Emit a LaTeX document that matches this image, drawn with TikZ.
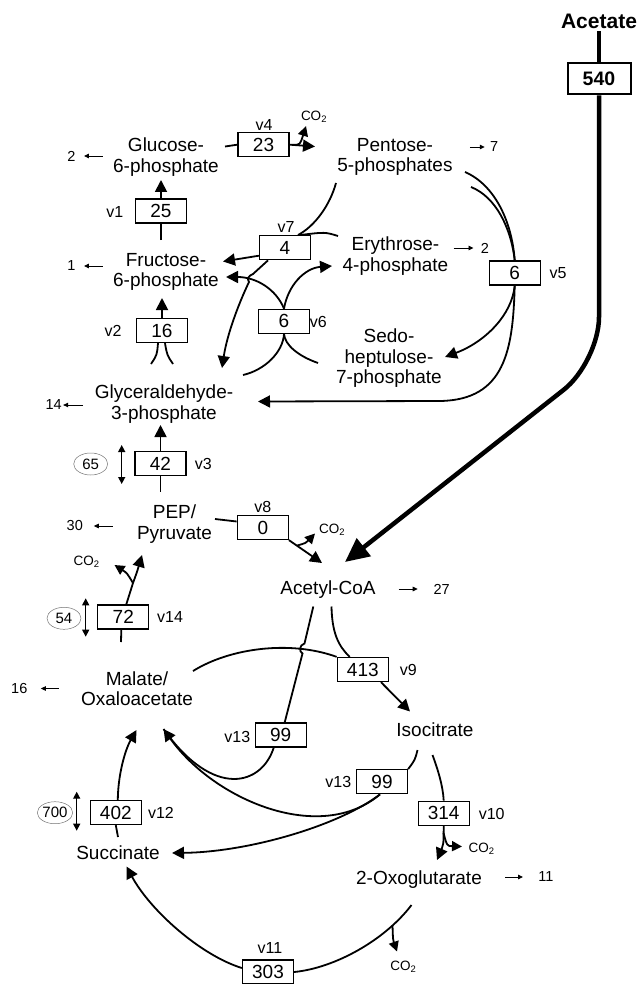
\documentclass[tikz,border=0pt]{standalone}
\usepackage{fontspec}
\setmainfont{Liberation Sans}
\usetikzlibrary{arrows.meta,shapes.geometric}

\begin{document}
\begin{tikzpicture}[x=1pt,y=-1pt,>={Triangle[length=12pt,width=12pt]},
  met/.style={align=center,inner sep=2pt,font=\fontsize{19}{20.5}\selectfont},
  flux/.style={draw,line width=1.3pt,minimum width=51pt,minimum height=24pt,
    inner sep=0pt,font=\fontsize{19}{20.5}\selectfont},
  vname/.style={inner sep=0pt,font=\fontsize{16}{18}\selectfont},
  outnum/.style={inner sep=0pt,font=\fontsize{14.5}{16}\selectfont},
  cotwo/.style={inner sep=0pt,font=\fontsize{13.5}{15}\selectfont},
  exch/.style={ellipse,draw=black!55,line width=0.5pt,minimum width=34pt,
    minimum height=22pt,inner sep=0pt,font=\fontsize{15}{17}\selectfont},
  link/.style={line width=1.8pt},
  flow/.style={link,->},
  coflow/.style={link,-{Triangle[length=10pt,width=10pt]}},
  outflow/.style={line width=0.9pt,-{Triangle[length=5pt,width=4.5pt]}},
  twoway/.style={line width=1.4pt,{Triangle[length=7pt,width=7pt]}-{Triangle[length=7pt,width=7pt]}},
  acetflow/.style={line width=4.5pt,rounded corners=45pt,-{Triangle[length=24pt,width=22pt]}}]
  \useasboundingbox (0,0) rectangle (644,984);

  % metabolites
  \node[met,font=\bfseries\fontsize{21}{24}\selectfont] (ace) at (599,21.5) {Acetate};
  \node[met] (g6p) at (166,157) {Glucose-\\6-phosphate};
  \node[met] (p5p) at (395,157) {Pentose-\\5-phosphates};
  \node[met] (f6p) at (166,272) {Fructose-\\6-phosphate};
  \node[met] (e4p) at (395.5,256) {Erythrose-\\4-phosphate};
  \node[met] (s7p) at (389,358.5) {Sedo-\\heptulose-\\7-phosphate};
  \node[met] (gap) at (164,404) {Glyceraldehyde-\\3-phosphate};
  \node[met] (pep) at (174.5,524) {PEP/\\Pyruvate};
  \node[met] (accoa) at (328,590) {Acetyl-CoA};
  \node[met] (mal) at (137,688.5) {Malate/\\Oxaloacetate};
  \node[met] (icit) at (435,729.5) {Isocitrate};
  \node[met] (suc) at (118,852.5) {Succinate};
  \node[met] (akg) at (419,880) {2-Oxoglutarate};

  % flux boxes
  \node[flux,line width=2pt,minimum width=63pt,minimum height=31pt,
    font=\bfseries\fontsize{19.5}{21}\selectfont] (vac) at (599,79) {540};
  \node[flux] (v1) at (161,211) {25};
  \node[flux] (v2) at (162,330.5) {16};
  \node[flux] (v3) at (160.5,463.5) {42};
  \node[flux] (v4) at (263.5,144.7) {23};
  \node[flux] (v5) at (514.7,273) {6};
  \node[flux] (v6) at (284,321.3) {6};
  \node[flux] (v7) at (285,247.7) {4};
  \node[flux] (v8) at (262.8,527.5) {0};
  \node[flux] (v9) at (362.8,669.5) {413};
  \node[flux] (v10) at (443.7,813.3) {314};
  \node[flux] (v11) at (268,972) {303};
  \node[flux] (v12) at (115.8,812.5) {402};
  \node[flux] (v13a) at (280.7,735) {99};
  \node[flux] (v13b) at (382,781.7) {99};
  \node[flux] (v14) at (123.3,617) {72};

  % reaction names
  \node[vname] (n1) at (114.7,212) {v1};
  \node[vname] (n2) at (113,330.5) {v2};
  \node[vname] (n3) at (203.3,464) {v3};
  \node[vname] (n4) at (264,125) {v4};
  \node[vname] (n5) at (558,273.3) {v5};
  \node[vname] (n6) at (318.3,321.7) {v6};
  \node[vname] (n7) at (286,226.7) {v7};
  \node[vname] (n8) at (262.7,506.7) {v8};
  \node[vname] (n9) at (408.3,670) {v9};
  \node[vname] (n10) at (491.7,814) {v10};
  \node[vname] (n11) at (270,948.3) {v11};
  \node[vname] (n12) at (161,813.3) {v12};
  \node[vname] (n13a) at (237.3,736.7) {v13};
  \node[vname] (n13b) at (338.3,781.7) {v13};
  \node[vname] (n14) at (170,616.7) {v14};

  % CO2 labels
  \node[cotwo] (c4) at (314,117) {CO\textsubscript{2}};
  \node[cotwo] (c8) at (332,530) {CO\textsubscript{2}};
  \node[cotwo] (c14) at (86.7,562) {CO\textsubscript{2}};
  \node[cotwo] (c10) at (481.7,849) {CO\textsubscript{2}};
  \node[cotwo] (c11) at (403.3,967) {CO\textsubscript{2}};

  % exchange fluxes
  \node[exch] (x3) at (90.7,464) {65};
  \node[exch] (x14) at (64,618.3) {54};
  \node[exch] (x12) at (55,812.7) {700};
  \draw[twoway] ([xshift=31pt,yshift=19pt]x3.center) -- ([xshift=31pt,yshift=-20pt]x3.center);
  \draw[twoway] ([xshift=21.7pt,yshift=20pt]x14.center) -- ([xshift=21.7pt,yshift=-18.4pt]x14.center);
  \draw[twoway] ([xshift=21.7pt,yshift=21pt]x12.center) -- ([xshift=21.7pt,yshift=-18pt]x12.center);

  % arrow ends
  \coordinate (g6p-e) at (225,146.5);
  \coordinate (g6p-s) at (161,180);
  \coordinate (p5p-w) at (315,146.5);
  \coordinate (v4-co) at (306,126);
  \coordinate (f6p-n) at (161,240);
  \coordinate (f6p-s) at (162,298);
  \coordinate (f6p-e1) at (223,261.5);
  \coordinate (f6p-e2) at (226,277);
  \coordinate (p5p-sw) at (336,183);
  \coordinate (p5p-se1) at (465,172);
  \coordinate (p5p-se2) at (471,187);
  \coordinate (e4p-nw) at (338,236);
  \coordinate (e4p-w) at (332,266);
  \coordinate (s7p-w) at (318,363);
  \coordinate (s7p-e) at (445,357);
  \coordinate (gap-nw) at (151,364);
  \coordinate (gap-ne) at (173,364);
  \coordinate (gap-n2) at (222,368);
  \coordinate (gap-n3) at (243,375);
  \coordinate (gap-e) at (258,401.5);
  \coordinate (gap-s) at (160.5,425);
  \coordinate (pep-n) at (160.5,492);
  \coordinate (pep-e) at (215,519);
  \coordinate (pep-sw) at (142,555);
  \coordinate (v8-split) at (297,545.6);
  \coordinate (v8-co) at (315,533.5);
  \coordinate (accoa-nw) at (322,563);
  \coordinate (accoa-ne) at (345,562);
  \coordinate (accoa-s1) at (313.3,606.5);
  \coordinate (accoa-s2) at (331.5,606.5);
  \coordinate (v14-split) at (133,583);
  \coordinate (v14-co) at (114.5,565);
  \coordinate (mal-n) at (121,642);
  \coordinate (mal-ne) at (193,671);
  \coordinate (mal-se) at (163.5,729);
  \coordinate (mal-s) at (136.5,730);
  \coordinate (icit-nw) at (410,711.5);
  \coordinate (icit-sw) at (417.5,750);
  \coordinate (icit-se) at (432.5,755);
  \coordinate (suc-n) at (118,837);
  \coordinate (suc-e) at (172,853);
  \coordinate (suc-s) at (126.5,866.5);
  \coordinate (v10-split) at (443.5,833);
  \coordinate (v10-co) at (462,846.5);
  \coordinate (akg-n) at (437,860);
  \coordinate (akg-s) at (411.5,905);
  \coordinate (v11-split) at (392.5,925.5);
  \coordinate (v11-co) at (397,951.5);

  % side outputs
  \draw[outflow] (g6p.west) ++(-8,-1) -- ++(-19,0) node[outnum,left=8pt] (o1) {2};
  \draw[outflow] (f6p.west) ++(-8,-6) -- ++(-19,0) node[outnum,left=8pt] (o2) {1};
  \draw[outflow] (gap.west) ++(-9.5,1) -- ++(-20,0) node[outnum,left=1pt] (o3) {14};
  \draw[outflow] (pep.west) ++(-22,2) -- ++(-19,0) node[outnum,left=10.5pt] (o4) {30};
  \draw[outflow] (mal.west) ++(-20,0) -- ++(-18,0) node[outnum,left=13pt] (o5) {16};
  \draw[outflow] (p5p.east) ++(15,-10) -- ++(15,0) node[outnum,right=5pt] (o6) {7};
  \draw[outflow] (e4p.east) ++(3,-8) -- ++(20,0) node[outnum,right=7pt] (o7) {2};
  \draw[outflow] (accoa.east) ++(21,-1) -- ++(19,0) node[outnum,right=15.5pt] (o8) {27};
  \draw[outflow] (akg.east) ++(21,-3) -- ++(18,0) node[outnum,right=15pt] (o9) {11};

  % glycolysis / pentose phosphates
  \draw[link] (g6p-e) -- (v4.west);
  \draw[flow] (v4.east) -- (p5p-w);
  \draw[coflow] ([xshift=3pt]v4.east) .. controls (300,145) .. (v4-co);
  \draw[link] (f6p-n) -- (v1.south);
  \draw[flow] (v1.north) -- (g6p-s);
  \draw[flow] (v2.north) -- (f6p-s);
  \draw[link] ([xshift=-4pt]v2.south) .. controls (157,355) .. (gap-nw);
  \draw[link] ([xshift=3pt]v2.south) .. controls (167,355) .. (gap-ne);
  \draw[flow] (v3.north) -- (gap-s);
  \draw[link] (v3.south) -- (pep-n);
  \draw[link] (p5p-se1) .. controls (495,185) and (512,222) .. (v5.north);
  \draw[link] (p5p-se2) .. controls (496,197) and (511,228) .. (v5.north);
  \draw[flow] (v5.south) .. controls (512,315) and (485,342) .. (s7p-e);
  \draw[flow] (v5.south) .. controls (513,350) and (505,400) .. (440,401) -- (gap-e);
  \draw[flow] (v6.north) .. controls (276,289) and (256,277) .. (f6p-e2);
  \draw[flow] (v6.north) .. controls (288,285) and (305,268) .. (e4p-w);
  \draw[link] (gap-n3) .. controls (265,370) and (283,352) .. (v6.south);
  \draw[link] (s7p-w) .. controls (298,356) and (285,345) .. (v6.south);
  \draw[link] (p5p-sw) .. controls (330,205) and (315,226) .. ([xshift=13pt]v7.north);
  \draw[link] (e4p-nw) .. controls (325,232) .. ([xshift=15pt]v7.north);
  \draw[flow] ([yshift=-8pt]v7.west) -- (f6p-e1);
  \draw[flow] ([xshift=-17pt]v7.south) -- (253,274) .. controls (248,276) and (247,279) .. (249,282)
    .. controls (238,305) and (227,335) .. (gap-n2);

  % acetate and TCA cycle
  \draw[line width=4.5pt] (ace) -- (vac);
  \draw[acetflow] (vac.south) -- (599,362) -- (accoa-ne);
  \draw[link] ([yshift=6pt]v8.west) -- (pep-e);
  \draw[flow] (v8.south east) -- (accoa-nw);
  \draw[coflow] (v8-split) .. controls (306,543) .. (v8-co);
  \draw[link] ([xshift=-2pt]v14.south) -- (mal-n);
  \draw[flow] ([xshift=3pt]v14.north) -- (v14-split) .. controls (137,572) .. (pep-sw);
  \draw[coflow] (v14-split) .. controls (127,573) .. (v14-co);
  \draw[link] (accoa-s2) .. controls (332,632) and (338,646) .. ([xshift=-13pt]v9.north);
  \draw[link] (mal-ne) .. controls (230,648) and (290,640) .. (v9.north west);
  \draw[flow] ([xshift=-8pt]v9.south east) -- (icit-nw);
  \draw[link] (accoa-s1) -- (304.5,643.5) .. controls (299,645) and (299,652) .. (302.5,653.5)
    -- ([xshift=4pt]v13a.north);
  \draw[link] ([xshift=-7pt]v13a.south) .. controls (262,785) and (214,800) .. (mal-se);
  \draw[link] (icit-sw) .. controls (415,760) .. (v13b.north east);
  \draw[flow] ([xshift=-2pt]v13b.south) .. controls (320,845) and (214,800) .. (mal-se);
  \draw[flow] ([xshift=-2pt]v13b.south) .. controls (340,825) and (250,852) .. (suc-e);
  \draw[link] (icit-se) .. controls (438,770) and (443,786) .. (v10.north);
  \draw[flow] (v10.south) .. controls (443.5,845) .. (akg-n);
  \draw[coflow] (v10-split) .. controls (447,846) .. (v10-co);
  \draw[link] (akg-s) .. controls (385,940) and (335,968) .. (v11.east);
  \draw[coflow] (v11-split) .. controls (393,940) .. (v11-co);
  \draw[flow] ([yshift=4pt]v11.west) .. controls (200,955) and (150,910) .. (suc-s);
  \draw[link] (suc-n) -- (v12.south);
  \draw[flow] ([xshift=2pt]v12.north) .. controls (118,775) and (125,750) .. (mal-s);
\end{tikzpicture}
\end{document}
